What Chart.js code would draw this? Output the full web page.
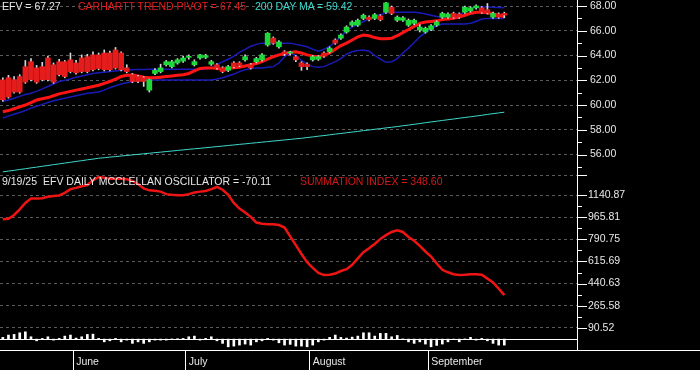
<!DOCTYPE html>
<html>
<head>
<meta charset="utf-8">
<script src="https://cdn.jsdelivr.net/npm/chart.js@4"></script>
<style>
body { margin: 0; background: #000; }
#wrap { position: relative; width: 700px; height: 370px; background: #000;
        font-family: "Liberation Sans", Arial, sans-serif; font-size: 10.5px; line-height: 12px; }
#wrap span { position: absolute; white-space: pre; }
canvas { display: block; }
</style>
</head>
<body>
<div id="wrap">
<canvas id="myChart" width="700" height="370"></canvas>
<span style="left:2px;top:0px;color:#e8e8e8">EFV = 67.27</span>
<span style="left:78px;top:0px;color:#e41c1c">CARHARTT TREND PIVOT = 67.45</span>
<span style="left:255px;top:0px;color:#3ed8cc">200 DAY MA = 59.42</span>
<span style="left:2px;top:175px;color:#e8e8e8">9/19/25</span>
<span style="left:43px;top:175px;color:#e8e8e8">EFV DAILY MCCLELLAN OSCILLATOR = -70.11</span>
<span style="left:300px;top:175px;color:#d41a1a">SUMMATION INDEX = 348.60</span>
</div>
<script>
// données (séances du 13 mai au 19 septembre 2025)
const dates = ['5/13','5/14','5/15','5/16','5/19','5/20','5/21','5/22','5/23','5/27','5/28','5/29','5/30',
  '6/2','6/3','6/4','6/5','6/6','6/9','6/10','6/11','6/12','6/13','6/16','6/17','6/18','6/20','6/23','6/24','6/25','6/26','6/27','6/30',
  '7/1','7/2','7/3','7/7','7/8','7/9','7/10','7/11','7/14','7/15','7/16','7/17','7/18','7/21','7/22','7/23','7/24','7/25','7/28','7/29','7/30','7/31',
  '8/1','8/4','8/5','8/6','8/7','8/8','8/11','8/12','8/13','8/14','8/15','8/18','8/19','8/20','8/21','8/22','8/25','8/26','8/27','8/28','8/29',
  '9/2','9/3','9/4','9/5','9/8','9/9','9/10','9/11','9/12','9/15','9/16','9/17','9/18','9/19'];

const open = [62.03,62.20,62.05,62.30,63.10,63.50,63.00,63.10,63.80,63.25,
  63.50,63.50,63.65,63.40,63.80,63.90,64.05,64.05,64.20,64.20,
  64.45,64.20,63.00,62.45,62.30,62.20,61.20,62.55,62.70,63.25,
  63.10,63.40,63.55,63.85,63.25,63.80,63.85,63.30,63.25,63.00,
  62.80,63.40,63.40,63.65,63.25,63.50,63.65,64.85,65.40,64.70,
  64.30,64.20,63.90,63.40,63.30,63.65,63.70,64.20,64.30,65.25,
  65.40,65.90,66.45,66.45,67.00,67.10,67.00,67.20,67.50,67.90,
  66.85,66.85,66.45,66.60,66.05,65.90,66.10,66.45,67.10,67.10,
  67.40,67.35,67.50,67.60,67.85,67.85,67.70,67.10,67.35,67.40];
const close = [60.42,60.65,61.05,61.05,61.85,62.05,61.85,62.05,62.05,61.85,
  62.45,62.30,62.70,62.60,62.70,62.70,62.85,62.95,62.85,62.85,
  63.00,62.85,62.70,61.90,61.90,61.90,62.05,62.80,63.00,63.50,
  63.50,63.65,63.80,63.90,63.50,64.05,64.00,63.50,63.00,62.70,
  63.10,63.10,63.20,63.90,63.00,63.75,64.05,65.80,65.00,65.10,
  64.15,64.22,63.65,63.10,63.10,63.90,63.90,63.95,64.60,65.00,
  65.65,66.30,66.70,66.85,67.25,66.90,67.30,66.90,68.25,67.40,
  67.10,67.05,66.85,66.85,66.30,66.20,66.40,66.70,67.40,67.35,
  67.10,67.10,67.90,67.85,68.00,67.50,67.45,67.40,67.10,67.27];
const high = [62.20,62.40,62.30,62.45,63.60,63.75,63.20,63.45,63.95,63.40,
  63.70,63.60,64.20,63.60,64.05,64.10,64.30,64.20,64.45,64.35,
  64.65,64.30,63.25,62.55,62.40,62.30,62.10,62.95,63.30,63.60,
  63.60,63.75,63.95,64.05,63.65,64.10,64.10,63.60,63.35,63.10,
  63.20,63.50,63.50,64.05,63.35,63.85,64.15,65.85,65.50,65.20,
  64.40,64.35,64.00,63.50,63.40,64.00,64.00,64.30,64.70,65.35,
  65.75,66.40,66.80,66.95,67.35,67.20,67.40,67.30,68.30,68.00,
  67.20,67.15,66.95,66.95,66.50,66.30,66.50,66.80,67.50,67.45,
  67.50,67.45,68.00,67.95,68.10,67.95,68.20,67.50,67.45,67.50];
const low = [60.30,60.55,60.95,60.95,61.75,61.95,61.75,61.95,61.95,61.75,
  62.35,62.20,62.60,62.50,62.60,62.60,62.75,62.85,62.75,62.75,
  62.90,62.75,62.60,61.80,61.80,61.50,61.05,62.45,62.60,63.15,
  63.00,63.30,63.45,63.70,63.15,63.70,63.75,63.20,62.90,62.60,
  62.70,63.00,63.10,63.55,62.90,63.40,63.55,64.75,64.90,64.60,
  64.00,64.05,63.50,62.80,62.85,63.55,63.60,63.85,64.20,64.90,
  65.30,65.80,66.35,66.35,66.90,66.80,66.90,66.80,67.40,67.30,
  66.75,66.75,66.35,66.50,65.90,65.80,66.00,66.35,67.00,67.00,
  67.00,67.00,67.40,67.50,67.75,67.40,67.35,67.00,67.00,67.05];

const pivot = [59.45,59.55,59.70,59.85,60.00,60.20,60.40,60.50,60.60,60.75,
  60.90,61.00,61.10,61.20,61.30,61.40,61.50,61.60,61.75,61.90,
  62.10,62.30,62.40,62.42,62.35,62.25,62.20,62.20,62.25,62.30,
  62.35,62.40,62.45,62.55,62.75,62.95,63.00,63.00,62.95,62.90,
  62.95,63.00,63.05,63.15,63.25,63.35,63.50,63.70,63.90,64.05,
  64.15,64.25,64.30,64.20,64.05,63.95,63.90,64.00,64.20,64.50,
  64.80,65.00,65.25,65.50,65.65,65.60,65.45,65.35,65.35,65.40,
  65.60,65.85,66.10,66.35,66.60,66.70,66.75,66.80,66.90,66.95,
  67.00,67.10,67.25,67.40,67.50,67.50,67.45,67.35,67.25,67.15];
const upperBand = [60.30,60.40,60.55,60.70,60.85,60.95,61.10,61.30,61.50,61.70,
  61.90,62.00,62.10,62.25,62.35,62.45,62.55,62.60,62.65,62.70,
  62.75,62.80,62.85,62.85,62.86,62.87,62.88,62.88,62.88,62.88,
  62.88,62.88,62.88,62.88,62.88,62.88,62.90,63.00,63.25,63.50,
  63.70,63.95,64.25,64.50,64.75,64.90,65.00,65.00,65.00,65.00,
  65.00,65.00,64.90,64.80,64.70,64.50,64.35,64.50,64.75,65.10,
  65.55,66.00,66.30,66.50,66.75,66.95,67.15,67.30,67.45,67.50,
  67.50,67.50,67.50,67.50,67.45,67.35,67.25,67.15,67.10,67.15,
  67.25,67.30,67.55,67.80,67.92,67.92,67.92,67.90,67.88,67.85];
const lowerBand = [58.95,59.10,59.25,59.40,59.55,59.75,59.90,60.05,60.20,60.35,
  60.45,60.55,60.65,60.75,60.85,60.95,61.00,61.05,61.20,61.40,
  61.55,61.70,61.80,61.90,61.95,62.00,62.03,62.03,62.03,62.03,
  62.03,62.03,62.03,62.03,62.03,62.03,62.03,62.03,62.10,62.20,
  62.35,62.50,62.70,62.85,62.95,63.00,63.00,63.05,63.10,63.40,
  63.90,64.20,64.00,63.60,63.30,63.10,63.05,63.10,63.30,63.50,
  63.75,64.10,64.30,64.40,64.45,64.35,64.00,63.70,63.45,63.50,
  63.75,64.20,64.60,65.05,65.50,65.85,66.15,66.40,66.55,66.55,
  66.55,66.55,66.55,66.60,66.75,66.95,67.00,67.00,67.00,67.00];
const ma200 = [54.60,54.66,54.72,54.79,54.85,54.92,54.98,55.05,55.11,55.18,
  55.24,55.31,55.37,55.44,55.50,55.57,55.63,55.70,55.74,55.79,
  55.83,55.88,55.92,55.97,56.01,56.06,56.10,56.15,56.19,56.24,
  56.28,56.33,56.37,56.42,56.46,56.50,56.55,56.59,56.64,56.68,
  56.73,56.77,56.82,56.86,56.91,56.95,57.00,57.04,57.09,57.13,
  57.18,57.22,57.27,57.31,57.37,57.42,57.48,57.53,57.59,57.65,
  57.70,57.76,57.81,57.87,57.93,57.98,58.04,58.09,58.15,58.20,
  58.26,58.32,58.38,58.44,58.50,58.57,58.63,58.69,58.75,58.81,
  58.87,58.93,58.99,59.05,59.11,59.17,59.24,59.30,59.36,59.42];

const summation = [950,955,985,1030,1080,1115,1115,1118,1130,1135,
  1140,1160,1190,1200,1212,1222,1260,1285,1280,1273,
  1273,1272,1268,1255,1230,1195,1180,1177,1170,1150,
  1145,1142,1141,1150,1163,1170,1175,1190,1207,1185,
  1145,1080,1035,1005,970,925,915,912,912,905,
  885,815,745,675,610,565,525,508,510,520,
  540,555,590,640,690,720,755,795,825,850,
  864,850,810,780,740,695,655,600,550,530,
  515,508,510,515,515,510,480,450,400,348.60];
const oscillator = [20,47,55,74,85,27,-20,8,27,-12,
  8,35,47,12,27,55,58,8,-32,-20,
  8,-32,-12,-50,-32,-50,-32,-12,-12,-12,
  2,4,8,27,35,-12,8,27,-20,-50,
  -90,-82,-70,-58,-70,-32,-20,8,-12,-43,
  -70,-62,-82,-82,-90,-70,-32,-12,20,47,
  20,12,23,35,74,74,35,67,67,27,
  43,2,-32,-50,-32,-58,-90,-74,-58,-32,
  -2,-32,2,20,-12,8,-20,-50,-70,-70.11];

const months = ['June','July','August','September'];
const monthNums = ['6','7','8','9'];
const priceTicks = [56,58,60,62,64,66,68];
const oscTicks = [90.52,265.58,440.63,615.69,790.75,965.81,1140.87];

const monthStart = monthNums.map(m => dates.findIndex(d => d.split('/')[0] === m));
const pts = arr => arr.map((v, i) => ({x: i, y: v}));
const oscMinor = oscTicks.slice(1).map((v, i) => (v + oscTicks[i]) / 2);

const RED = '#e41c1c', GREEN = '#1ed83a';

const axisMarks = {
  id: 'axisMarks',
  afterDraw(chart){
    const ctx = chart.ctx, a = chart.chartArea;
    ctx.save();
    ctx.strokeStyle = '#ffffff';
    ctx.lineWidth = 1;
    ['price','osc'].forEach(id => {
      const s = chart.scales[id];
      s.ticks.forEach(t => {
        const y = Math.round(s.getPixelForValue(t.value)) + 0.5;
        const len = (t.label !== '' || t.value === s.max) ? 10 : 5;
        ctx.beginPath(); ctx.moveTo(s.left, y); ctx.lineTo(s.left + len, y); ctx.stroke();
      });
    });
    // ligne zéro de l'oscillateur
    const y0 = Math.round(chart.scales.hist.getPixelForValue(0)) + 0.5;
    ctx.beginPath(); ctx.moveTo(a.left, y0); ctx.lineTo(a.right, y0); ctx.stroke();
    // ligne du bas jusqu'au bord droit
    const yb = Math.round(a.bottom) + 0.5;
    ctx.beginPath(); ctx.moveTo(a.right, yb); ctx.lineTo(chart.width, yb); ctx.stroke();
    ctx.restore();
  }
};

Chart.defaults.font.family = '"Liberation Sans", Arial, sans-serif';
Chart.defaults.font.size = 10.5;
Chart.defaults.color = '#e8e8e8';

const ctx = document.getElementById('myChart');
new Chart(ctx, {
  type: 'bar',
  data: {
    datasets: [{
      label: 'corps',
      data: dates.map((d, i) => ({x: i, y: [open[i], close[i]]})),
      backgroundColor: dates.map((d, i) => close[i] >= open[i] ? GREEN : RED),
      barThickness: 5,
      minBarLength: 1,
      grouped: false,
      yAxisID: 'price'
    }, {
      label: 'mèches',
      data: dates.map((d, i) => ({x: i, y: [low[i], high[i]]})),
      backgroundColor: '#d8d8d8',
      barThickness: 1,
      grouped: false,
      yAxisID: 'price'
    }, {
      type: 'line', label: 'pivot', data: pts(pivot),
      borderColor: '#ff1414', borderWidth: 3, yAxisID: 'price'
    }, {
      type: 'line', label: 'haut', data: pts(upperBand),
      borderColor: '#1a1ab8', borderWidth: 1.5, yAxisID: 'price'
    }, {
      type: 'line', label: 'bas', data: pts(lowerBand),
      borderColor: '#1a1ab8', borderWidth: 1.5, yAxisID: 'price'
    }, {
      type: 'line', label: 'MA 200', data: pts(ma200),
      borderColor: '#3ed8cc', borderWidth: 1, yAxisID: 'price'
    }, {
      type: 'line', label: 'summation', data: pts(summation),
      borderColor: '#ee1414', borderWidth: 2.5, yAxisID: 'osc'
    }, {
      label: 'oscillateur',
      data: pts(oscillator),
      backgroundColor: '#ffffff',
      barThickness: 2,
      grouped: false,
      yAxisID: 'hist'
    }]
  },
  options: {
    responsive: false,
    animation: false,
    layout: { padding: 0 },
    elements: { point: { radius: 0 }, line: { tension: 0 } },
    plugins: { legend: { display: false }, tooltip: { enabled: false } },
    scales: {
      x: {
        type: 'linear', min: -0.5, max: 101.9, offset: false, bounds: 'data',
        afterBuildTicks: s => { s.ticks = monthStart.map(i => ({value: i - 0.5})); },
        ticks: { align: 'start', padding: -14, maxRotation: 0, autoSkip: false,
                 callback: (v, i) => ' ' + months[i] },
        grid: { drawOnChartArea: false, drawTicks: true, tickLength: 20, color: '#ffffff', offset: false },
        border: { color: '#ffffff' },
        afterFit: s => { s.height = 20; s.paddingLeft = 0; s.paddingRight = 0; }
      },
      price: {
        type: 'linear', position: 'right', stack: 'droite', stackWeight: 1,
        min: 54.344, max: 68.485,
        afterBuildTicks: s => {
          s.ticks = priceTicks.concat(priceTicks.map(v => v - 1)).map(v => ({value: v}));
        },
        ticks: { padding: 13, autoSkip: false,
                 callback: v => priceTicks.includes(v) ? v.toFixed(2) : '' },
        grid: { drawTicks: false, color: c => (c.tick && priceTicks.includes(c.tick.value)) ? '#5a5a5a' : 'rgba(0,0,0,0)' },
        border: { color: '#ffffff', dash: [3, 3] },
        afterFit: s => { s.width = 123; s.paddingTop = 0; s.paddingBottom = 0; }
      },
      osc: {
        type: 'linear', position: 'right', stack: 'droite', stackWeight: 1,
        min: -86.4, max: 1301.9,
        afterBuildTicks: s => {
          s.ticks = [s.max].concat(oscTicks, oscMinor).map(v => ({value: v}));
        },
        ticks: { padding: 11, autoSkip: false,
                 callback: v => oscTicks.includes(v) ? v.toFixed(2) : '' },
        grid: { drawTicks: false, color: c => (c.tick && (oscTicks.includes(c.tick.value) || c.tick.value === 1301.9)) ? '#5a5a5a' : 'rgba(0,0,0,0)' },
        border: { color: '#ffffff', dash: [3, 3] },
        afterFit: s => { s.width = 123; s.paddingTop = 0; s.paddingBottom = 0; }
      },
      hist: {
        type: 'linear', display: false, min: -127.5, max: 3967
      }
    }
  },
  plugins: [axisMarks]
});
</script>
</body>
</html>
